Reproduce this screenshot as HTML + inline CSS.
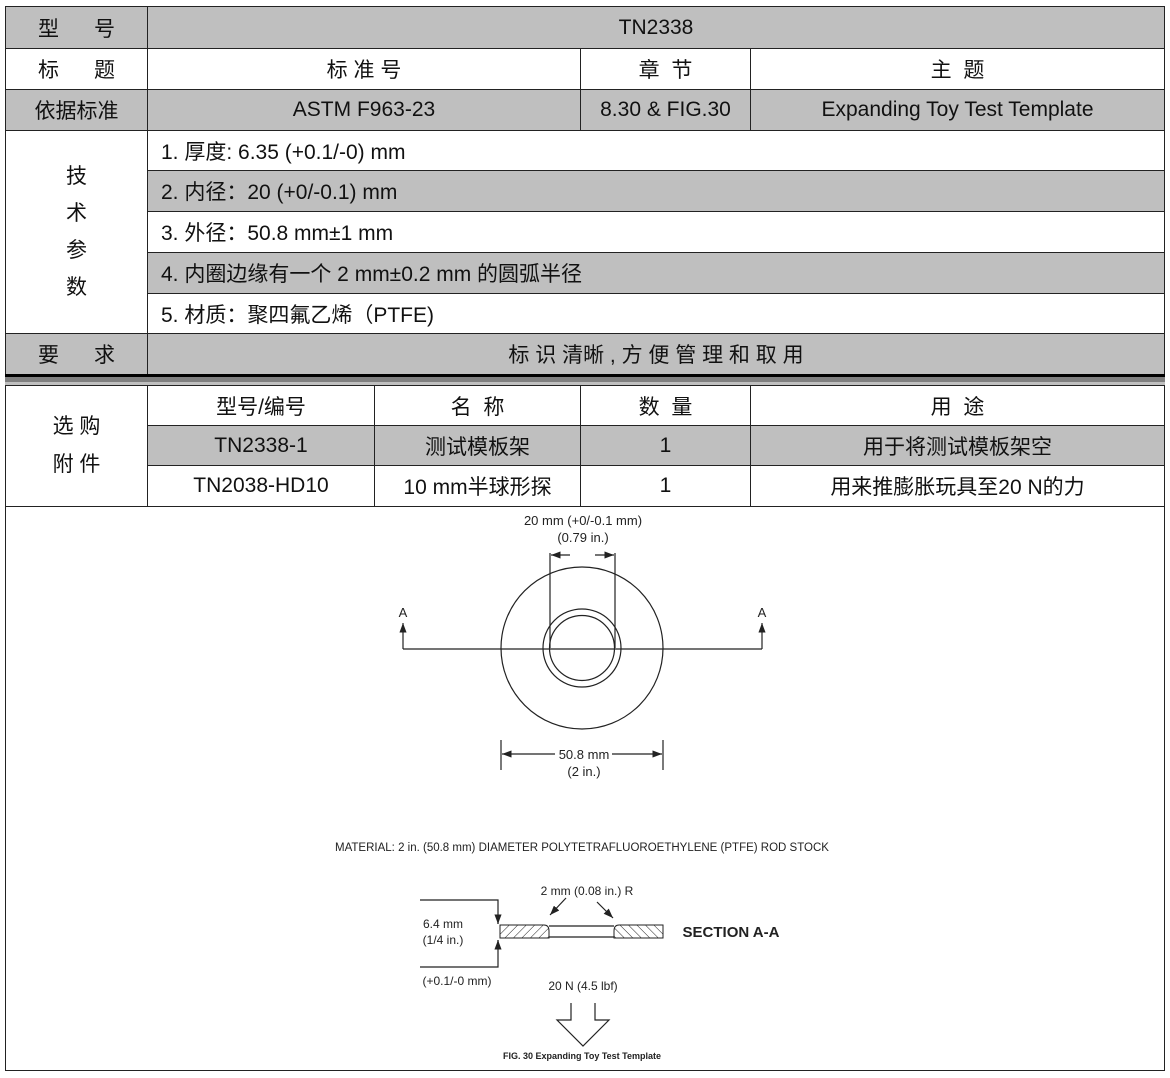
<!DOCTYPE html>
<html><head><meta charset="utf-8"><style>
body{margin:0;width:1170px;height:1078px;background:#fff;position:relative;overflow:hidden;font-family:"Liberation Sans","Noto Sans CJK SC",sans-serif;color:#111}
.c{position:absolute;box-sizing:border-box;border:1px solid #222;display:flex;align-items:center;justify-content:center;font-size:21px;white-space:pre}
.g{background:#bfbfbf}
.l{justify-content:flex-start;padding-left:13px}
svg text{font-family:"Liberation Sans",sans-serif;fill:#222}
</style></head><body>
<div class="c g" style="left:5px;top:6px;width:143px;height:43px">型      号</div>
<div class="c g" style="left:147px;top:6px;width:1018px;height:43px">TN2338</div>
<div class="c" style="left:5px;top:48px;width:143px;height:42px">标      题</div>
<div class="c" style="left:147px;top:48px;width:434px;height:42px">标 准 号</div>
<div class="c" style="left:580px;top:48px;width:171px;height:42px">章  节</div>
<div class="c" style="left:750px;top:48px;width:415px;height:42px">主  题</div>
<div class="c g" style="left:5px;top:89px;width:143px;height:42px">依据标准</div>
<div class="c g" style="left:147px;top:89px;width:434px;height:42px">ASTM F963-23</div>
<div class="c g" style="left:580px;top:89px;width:171px;height:42px">8.30 &amp; FIG.30</div>
<div class="c g" style="left:750px;top:89px;width:415px;height:42px">Expanding Toy Test Template</div>
<div class="c" style="left:5px;top:130px;width:143px;height:204px;flex-direction:column;line-height:37px">技<br>术<br>参<br>数</div>
<div class="c l" style="left:147px;top:130px;width:1018px;height:41px">1. 厚度: 6.35 (+0.1/-0) mm</div>
<div class="c l g" style="left:147px;top:170px;width:1018px;height:42px">2. 内径：20 (+0/-0.1) mm</div>
<div class="c l" style="left:147px;top:211px;width:1018px;height:42px">3. 外径：50.8 mm±1 mm</div>
<div class="c l g" style="left:147px;top:252px;width:1018px;height:42px">4. 内圈边缘有一个 2 mm±0.2 mm 的圆弧半径</div>
<div class="c l" style="left:147px;top:293px;width:1018px;height:41px">5. 材质：聚四氟乙烯（PTFE)</div>
<div class="c g" style="left:5px;top:333px;width:143px;height:42px">要      求</div>
<div class="c g" style="left:147px;top:333px;width:1018px;height:42px">标 识 清晰 , 方 便 管 理 和 取 用</div>
<div style="position:absolute;left:5px;top:374px;width:1160px;height:3px;background:#000"></div>
<div style="position:absolute;left:5px;top:377px;width:1160px;height:5px;background:#7f7f7f"></div>
<div style="position:absolute;left:5px;top:382px;width:1160px;height:3px;background:#bfbfbf"></div>
<div class="c" style="left:5px;top:385px;width:143px;height:122px;flex-direction:column;line-height:38px">选 购<br>附 件</div>
<div class="c" style="left:147px;top:385px;width:228px;height:41px">型号/编号</div>
<div class="c" style="left:374px;top:385px;width:207px;height:41px">名  称</div>
<div class="c" style="left:580px;top:385px;width:171px;height:41px">数  量</div>
<div class="c" style="left:750px;top:385px;width:415px;height:41px">用  途</div>
<div class="c g" style="left:147px;top:425px;width:228px;height:41px">TN2338-1</div>
<div class="c g" style="left:374px;top:425px;width:207px;height:41px">测试模板架</div>
<div class="c g" style="left:580px;top:425px;width:171px;height:41px">1</div>
<div class="c g" style="left:750px;top:425px;width:415px;height:41px">用于将测试模板架空</div>
<div class="c" style="left:147px;top:465px;width:228px;height:42px">TN2038-HD10</div>
<div class="c" style="left:374px;top:465px;width:207px;height:42px">10 mm半球形探</div>
<div class="c" style="left:580px;top:465px;width:171px;height:42px">1</div>
<div class="c" style="left:750px;top:465px;width:415px;height:42px">用来推膨胀玩具至20 N的力</div>
<div class="c" style="left:5px;top:506px;width:1160px;height:565px"></div>
<svg style="position:absolute;left:0;top:0" width="1170" height="1078" viewBox="0 0 1170 1078">
<defs><marker id="ar" markerWidth="8" markerHeight="6" refX="8" refY="3" orient="auto"><path d="M0,0L8,3L0,6z" fill="#222"/></marker></defs>
<g fill="none" stroke="#222" stroke-width="1.2">
<circle cx="582" cy="648" r="81"/><circle cx="582" cy="648" r="39"/><circle cx="582" cy="648" r="32.5"/>
<path d="M550,553V648M615,553V648"/>
<path d="M570,555H551" marker-end="url(#ar)"/><path d="M595,555H614" marker-end="url(#ar)"/>
<path d="M403,649H762"/>
<path d="M403,649V623" marker-end="url(#ar)"/><path d="M762,649V623" marker-end="url(#ar)"/>
<path d="M501,740V770M663,740V770"/>
<path d="M555,754H502" marker-end="url(#ar)"/><path d="M612,754H662" marker-end="url(#ar)"/>
<path d="M420,900H498V924M420,967H498V940"/>
<path d="M498,918V924" marker-end="url(#ar)"/><path d="M498,946V940" marker-end="url(#ar)"/>
<path d="M549,926H614M549,937H614"/>
<path d="M566,898L550,915" marker-end="url(#ar)"/><path d="M597,902L613,918" marker-end="url(#ar)"/>
<path d="M571,1003V1020H557L583,1046L609,1020H595V1003"/>
</g>
<defs><pattern id="h1" width="6" height="6" patternUnits="userSpaceOnUse" patternTransform="rotate(45)"><path d="M0,0V6" stroke="#222" stroke-width="1"/></pattern>
<pattern id="h2" width="6" height="6" patternUnits="userSpaceOnUse" patternTransform="rotate(-45)"><path d="M0,0V6" stroke="#222" stroke-width="1"/></pattern></defs>
<path d="M500,925H544Q549,925 549,931V938H500Z" fill="url(#h1)" stroke="#222"/>
<path d="M663,925H619Q614,925 614,931V938H663Z" fill="url(#h2)" stroke="#222"/>
<g font-size="13" text-anchor="middle">
<text x="583" y="525">20 mm (+0/-0.1 mm)</text><text x="583" y="542">(0.79 in.)</text>
<text x="403" y="617">A</text><text x="762" y="617">A</text>
<text x="584" y="759">50.8 mm</text><text x="584" y="776">(2 in.)</text>
<text x="582" y="851" font-size="11.5">MATERIAL: 2 in. (50.8 mm) DIAMETER POLYTETRAFLUOROETHYLENE (PTFE) ROD STOCK</text>
<text x="587" y="895" font-size="12">2 mm (0.08 in.) R</text>
<text x="443" y="928" font-size="12">6.4 mm</text><text x="443" y="944" font-size="12">(1/4 in.)</text>
<text x="457" y="985" font-size="12">(+0.1/-0 mm)</text>
<text x="583" y="990" font-size="12">20 N (4.5 lbf)</text>
<text x="731" y="937" font-size="15" font-weight="bold">SECTION A-A</text>
<text x="582" y="1059" font-size="9" font-weight="bold">FIG. 30 Expanding Toy Test Template</text>
</g>
</svg>
</body></html>
